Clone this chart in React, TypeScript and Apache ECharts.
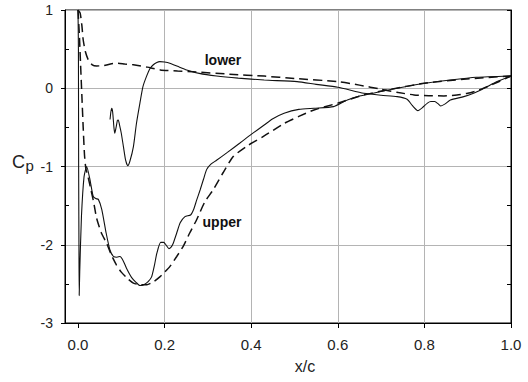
import { useEffect, useRef } from "react";
import * as echarts from "echarts";

// Pressure coefficient data (x/c, Cp)
const solidUpper: [number, number][] = [
  [0, 1.0], [0.001, 0.5], [0.0015, -1.0], [0.0022, -2.0], [0.0028, -2.65], [0.004, -2.35],
  [0.008, -1.64], [0.014, -1.13], [0.02, -1.0], [0.027, -1.15], [0.035, -1.38], [0.041, -1.41],
  [0.047, -1.42], [0.055, -1.55], [0.065, -1.85], [0.074, -2.07], [0.082, -2.15], [0.09, -2.16],
  [0.097, -2.15], [0.104, -2.2], [0.112, -2.3], [0.124, -2.42], [0.134, -2.48], [0.143, -2.52],
  [0.152, -2.51], [0.162, -2.47], [0.17, -2.41], [0.177, -2.25], [0.182, -2.11], [0.191, -1.97],
  [0.198, -1.97], [0.203, -2.0], [0.21, -2.05], [0.215, -2.03], [0.22, -1.98], [0.228, -1.85],
  [0.236, -1.72], [0.247, -1.64], [0.26, -1.62], [0.267, -1.55], [0.274, -1.43], [0.282, -1.3],
  [0.29, -1.16], [0.297, -1.04], [0.307, -0.97], [0.32, -0.92], [0.345, -0.82], [0.374, -0.7],
  [0.4, -0.59], [0.43, -0.47], [0.45, -0.39], [0.476, -0.32], [0.51, -0.27], [0.545, -0.255],
  [0.59, -0.235], [0.622, -0.15], [0.65, -0.1], [0.684, -0.06], [0.737, 0.0], [0.8, 0.064],
  [0.86, 0.106], [0.92, 0.14], [1.0, 0.157],
];

const solidLower: [number, number][] = [
  [0.074, -0.4], [0.076, -0.3], [0.078, -0.255], [0.08, -0.3], [0.083, -0.5], [0.085, -0.575],
  [0.088, -0.5], [0.091, -0.41], [0.093, -0.405], [0.096, -0.47], [0.1, -0.575], [0.105, -0.75],
  [0.11, -0.92], [0.115, -0.99], [0.12, -0.93], [0.128, -0.745], [0.135, -0.45], [0.143, -0.19],
  [0.15, 0.02], [0.158, 0.148], [0.166, 0.25], [0.174, 0.3], [0.182, 0.33], [0.189, 0.34],
  [0.2, 0.335], [0.212, 0.32], [0.23, 0.28], [0.251, 0.234], [0.28, 0.19], [0.32, 0.157],
  [0.37, 0.13], [0.43, 0.105], [0.506, 0.085], [0.55, 0.05], [0.6, 0.013], [0.66, -0.064],
  [0.7, -0.09], [0.737, -0.107], [0.76, -0.14], [0.772, -0.22], [0.785, -0.286], [0.795, -0.25],
  [0.807, -0.19], [0.815, -0.17], [0.824, -0.17], [0.832, -0.2], [0.838, -0.226], [0.848, -0.2],
  [0.86, -0.15], [0.891, -0.107], [0.915, -0.06], [0.938, 0.0], [0.968, 0.085], [1.0, 0.157],
];

const dashedLower: [number, number][] = [
  [0, 1.0], [0.005, 0.96], [0.009, 0.8], [0.012, 0.62], [0.017, 0.47], [0.024, 0.36],
  [0.033, 0.3], [0.043, 0.285], [0.06, 0.29], [0.075, 0.31], [0.089, 0.32], [0.108, 0.31],
  [0.128, 0.3], [0.16, 0.27], [0.19, 0.234], [0.23, 0.22], [0.266, 0.21], [0.35, 0.18],
  [0.43, 0.155], [0.5, 0.125], [0.6, 0.085], [0.65, 0.04], [0.7, -0.013], [0.74, -0.055],
  [0.776, -0.085], [0.81, -0.095], [0.845, -0.098], [0.875, -0.085], [0.9, -0.064],
  [0.925, -0.025], [0.945, 0.02], [0.97, 0.08], [1.0, 0.157],
];

const dashedUpper: [number, number][] = [
  [0, 1.0], [0.003, 0.7], [0.006, 0.3], [0.009, -0.1], [0.012, -0.5], [0.015, -0.85],
  [0.018, -1.02], [0.024, -1.15], [0.03, -1.3], [0.036, -1.45], [0.043, -1.66], [0.054, -1.85],
  [0.066, -1.98], [0.077, -2.13], [0.089, -2.26], [0.1, -2.35], [0.114, -2.43], [0.128, -2.49],
  [0.143, -2.51], [0.159, -2.51], [0.175, -2.47], [0.189, -2.41], [0.2, -2.35], [0.212, -2.28],
  [0.228, -2.15], [0.243, -2.02], [0.258, -1.85], [0.274, -1.68], [0.293, -1.45], [0.312, -1.3],
  [0.335, -1.08], [0.359, -0.87], [0.39, -0.74], [0.43, -0.61], [0.476, -0.45], [0.51, -0.36],
  [0.545, -0.277], [0.6, -0.19], [0.66, -0.085], [0.722, -0.013], [0.8, 0.064], [0.89, 0.115],
  [1.0, 0.157],
];

const X_MIN = -0.03;
const X_MAX = 1.0;
const Y_MIN = -3;
const Y_MAX = 1;

const FONT = "'Liberation Sans', Arial, sans-serif";

export default function App() {
  const ref = useRef<HTMLDivElement>(null);

  useEffect(() => {
    const chart = echarts.init(ref.current!, null, { renderer: "svg" });
    const gridBase = { top: 10, bottom: 59, right: 17 };
    const W = 528 - 65 - 17;
    const pxPerUnit = W / (X_MAX - X_MIN);
    const x0 = 65 + (0 - X_MIN) * pxPerUnit;
    const x02 = x0 + 0.2 * pxPerUnit;
    const gridColor = "#b4b4b4";

    const lineSeries = (data: [number, number][], dashed: boolean) => ({
      type: "line",
      xAxisIndex: 0,
      yAxisIndex: 0,
      data,
      showSymbol: false,
      symbol: "none",
      smooth: 0.2,
      clip: true,
      lineStyle: {
        color: "#111",
        width: dashed ? 1.5 : 1.1,
        type: dashed ? [9, 5] : "solid",
      },
      z: 5,
    });

    chart.setOption({
      animation: false,
      backgroundColor: "#fff",
      grid: [
        { ...gridBase, left: 65, show: true, borderColor: "#000", borderWidth: 1, backgroundColor: "transparent" },
        { ...gridBase, left: x0 },
        { ...gridBase, left: x02 },
      ],
      xAxis: [
        {
          gridIndex: 0, type: "value", min: X_MIN, max: X_MAX,
          axisLine: { show: true, onZero: false, lineStyle: { color: "#000", width: 1 } },
          axisTick: { show: false }, axisLabel: { show: false }, splitLine: { show: false },
        },
        {
          gridIndex: 1, type: "value", min: 0, max: 1, interval: 0.2,
          axisLine: { show: false, onZero: false },
          axisTick: { show: true, length: 5, lineStyle: { color: "#000" } },
          axisLabel: {
            margin: 14, fontSize: 15, color: "#222", fontFamily: FONT,
            formatter: (v: number) => v.toFixed(1),
          },
          splitLine: { show: false },
        },
        {
          gridIndex: 2, type: "value", min: 0.2, max: 1, interval: 0.2,
          axisLine: { show: false, onZero: false },
          axisTick: { show: false }, axisLabel: { show: false },
          splitLine: { show: true, lineStyle: { color: gridColor, width: 1 } },
        },
      ],
      yAxis: [
        {
          gridIndex: 0, type: "value", min: Y_MIN, max: Y_MAX, interval: 1,
          axisLine: { show: true, onZero: false, lineStyle: { color: "#000", width: 1 } },
          axisTick: { show: true, length: 4, lineStyle: { color: "#000" } },
          axisLabel: { margin: 12, fontSize: 14, color: "#222", fontFamily: FONT },
          splitLine: { show: true, lineStyle: { color: gridColor, width: 1 } },
        },
        {
          gridIndex: 0, type: "value", position: "right", min: Y_MIN, max: Y_MAX, interval: 1,
          axisLine: { show: true, onZero: false, lineStyle: { color: "#000", width: 1 } },
          axisTick: { show: true, inside: true, length: 4, lineStyle: { color: "#000" } },
          minorTick: { show: true, splitNumber: 2, length: 4, lineStyle: { color: "#000" } },
          axisLabel: { show: false }, splitLine: { show: false },
        },
        {
          gridIndex: 0, type: "value", position: "left", min: Y_MIN, max: Y_MAX, interval: 1,
          axisLine: { show: false, onZero: false },
          axisTick: { show: false, inside: true },
          minorTick: { show: true, splitNumber: 2, length: 4, lineStyle: { color: "#000" } },
          axisLabel: { show: false }, splitLine: { show: false },
        },
        { gridIndex: 1, type: "value", show: false, min: Y_MIN, max: Y_MAX },
        { gridIndex: 2, type: "value", show: false, min: Y_MIN, max: Y_MAX },
      ],
      series: [
        lineSeries(dashedLower, true),
        lineSeries(dashedUpper, true),
        lineSeries(solidLower, false),
        lineSeries(solidUpper, false),
      ],
      graphic: [
        {
          type: "text", x: 223, y: 60, z: 10,
          style: { text: "lower", font: `bold 14px ${FONT}`, fill: "#111", align: "center", verticalAlign: "middle" },
        },
        {
          type: "text", x: 222, y: 222, z: 10,
          style: { text: "upper", font: `bold 14px ${FONT}`, fill: "#111", align: "center", verticalAlign: "middle" },
        },
        {
          type: "text", x: 305, y: 366, z: 10,
          style: { text: "x/c", font: `16px ${FONT}`, fill: "#222", align: "center", verticalAlign: "middle" },
        },
        {
          type: "text", x: 12, y: 161.7, z: 10,
          style: { text: "C", font: `18px ${FONT}`, fill: "#222", align: "left", verticalAlign: "middle" },
        },
        {
          type: "text", x: 25.5, y: 165, z: 10,
          style: { text: "p", font: `15px ${FONT}`, fill: "#222", align: "left", verticalAlign: "middle" },
        },
      ],
    });
    return () => chart.dispose();
  }, []);

  return (
    <div
      ref={ref}
      style={{ position: "fixed", left: 0, top: 0, width: 528, height: 382 }}
    />
  );
}
